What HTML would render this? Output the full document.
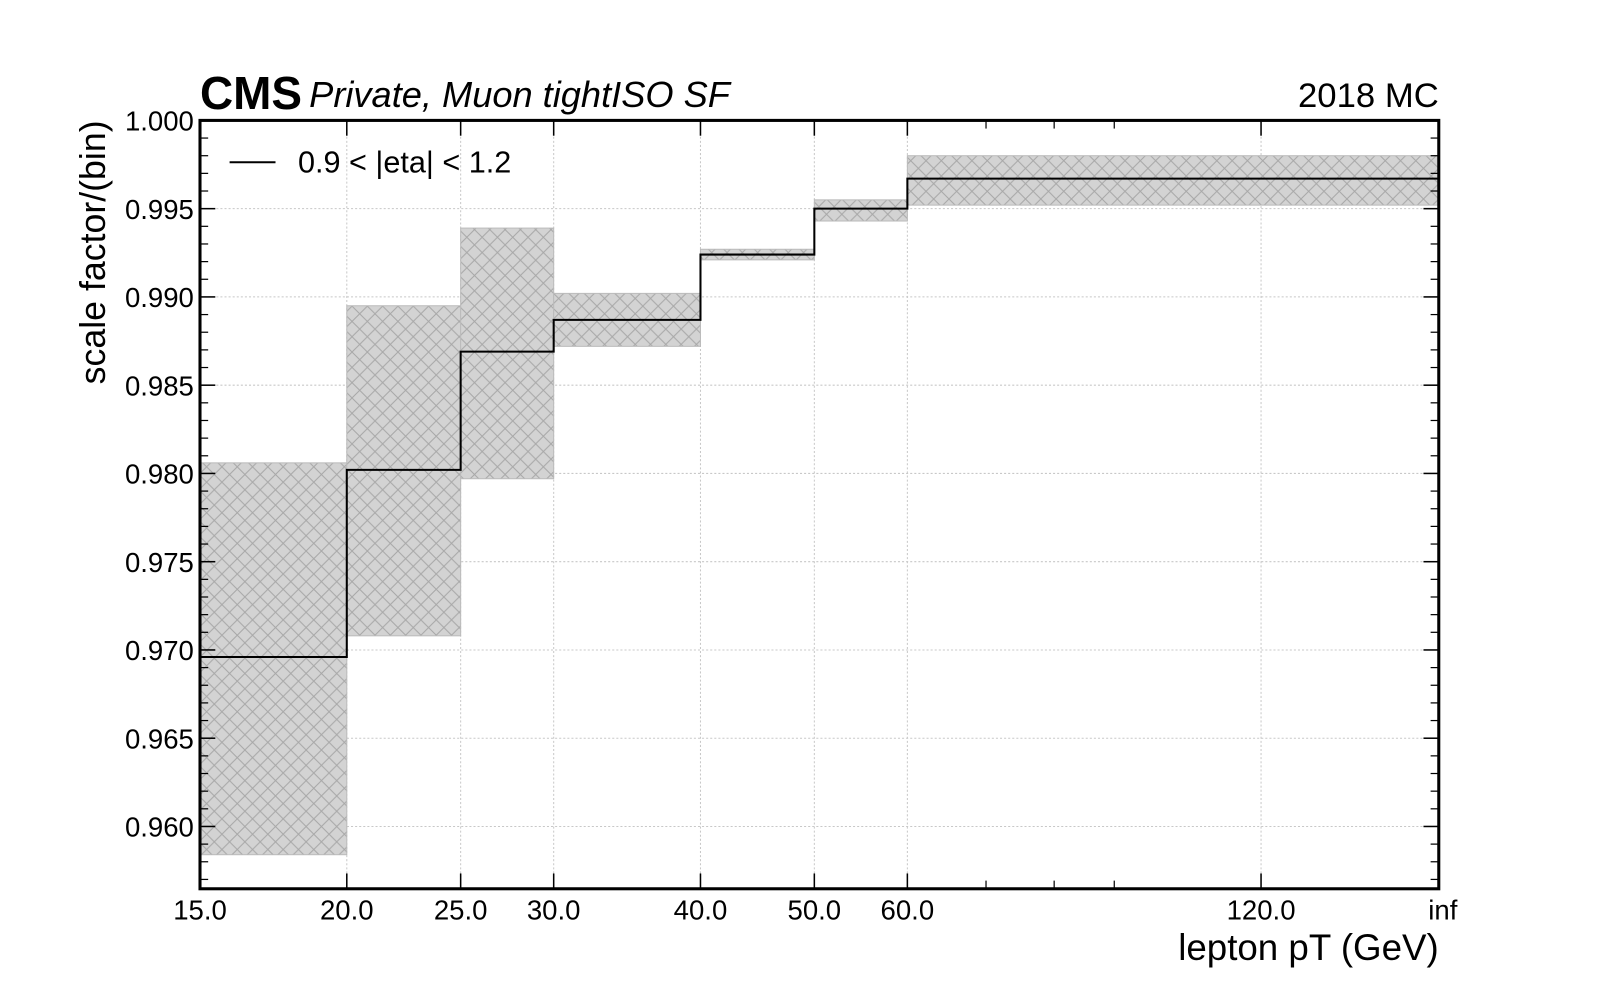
<!DOCTYPE html>
<html><head><meta charset="utf-8"><style>
body{margin:0;background:#fff;}
svg text{font-family:"Liberation Sans",sans-serif;}
</style></head><body>
<svg id="chart" width="1600" height="1000" viewBox="0 0 1568 980" xmlns="http://www.w3.org/2000/svg">
<defs>
<pattern id="hatch" width="15" height="15" patternUnits="userSpaceOnUse">
<rect width="15" height="15" fill="#d3d3d3"/>
<path d="M0,0 L15,15 M15,0 L0,15" stroke="#a8a8a8" stroke-width="1"/>
</pattern>
</defs>
<g id="grid"></g>
<g id="bands"></g>
<g id="line"></g>
<g id="axes"></g>
<text x="196" y="107" font-size="45" font-weight="bold">CMS</text>
<text x="303" y="105" font-size="35.5" font-style="italic">Private, Muon tightISO SF</text>
<text x="1410" y="105" font-size="34" text-anchor="end">2018 MC</text>
<text x="1410" y="941" font-size="36" text-anchor="end">lepton pT (GeV)</text>
<text transform="translate(103,118) rotate(-90)" font-size="35" text-anchor="end">scale factor/(bin)</text>
<g>
<line x1="225" y1="159" x2="270" y2="159" stroke="#000" stroke-width="2"/>
<text x="292" y="169" font-size="30">0.9 &lt; |eta| &lt; 1.2</text>
</g>
</svg>
<script>
const binEdges=[15,20,25,30,40,50,60,170];
const edgeLabels=["15.0","20.0","25.0","30.0","40.0","50.0","60.0","inf"];
const sfValues=[0.9696,0.9802,0.9869,0.9887,0.9924,0.9950,0.9967];
const sfUp=[0.9806,0.9895,0.9939,0.9902,0.9927,0.9955,0.9980];
const sfDown=[0.9584,0.9708,0.9797,0.9872,0.9921,0.9943,0.9952];
const extraTicks=[120];
const extraLabels=["120.0"];
const minorX=[70,80,90];
const yTicks=[0.960,0.965,0.970,0.975,0.980,0.985,0.990,0.995,1.000];
const L=196,R=1410,T=118,B=871,XMIN=15,XMAX=170,YMAX=1.0,YMIN=0.95647;
const NS="http://www.w3.org/2000/svg";
function X(v){return L+(R-L)*Math.log(v/XMIN)/Math.log(XMAX/XMIN);}
function Y(v){return T+(B-T)*(YMAX-v)/(YMAX-YMIN);}
function mk(tag,attrs,parent){const e=document.createElementNS(NS,tag);for(const k in attrs)e.setAttribute(k,attrs[k]);document.getElementById(parent).appendChild(e);return e;}
const gx=binEdges.slice(1,-1).concat(extraTicks);
gx.forEach(v=>{const e=mk('line',{x1:X(v),x2:X(v),y1:T,y2:B,stroke:'#c8c8c8','stroke-dasharray':'2,2','stroke-width':1},'grid');

});
yTicks.forEach(v=>{if(v>=1)return;const e=mk('line',{x1:L,x2:R,y1:Y(v),y2:Y(v),stroke:'#c8c8c8','stroke-dasharray':'2,2','stroke-width':1},'grid');

});
sfValues.forEach((v,i)=>{const x0=X(binEdges[i]),x1=X(binEdges[i+1]);
const r=mk('rect',{x:x0,y:Y(sfUp[i]),width:x1-x0,height:Y(sfDown[i])-Y(sfUp[i]),fill:'url(#hatch)',stroke:'#bbb','stroke-width':1},'bands');

});
let d='';sfValues.forEach((v,i)=>{d+=(i?'L':'M')+X(binEdges[i])+','+Y(v)+'L'+X(binEdges[i+1])+','+Y(v);});
const p=mk('path',{d:d,fill:'none',stroke:'#000','stroke-width':2},'line');


const f=mk('rect',{x:L,y:T,width:R-L,height:B-T,fill:'none',stroke:'#000','stroke-width':3},'axes');


const xt=binEdges.slice(0,-1).concat(extraTicks),xl=edgeLabels.slice(0,-1).concat(extraLabels);
xt.forEach((v,i)=>{const x=X(v);
mk('line',{x1:x,x2:x,y1:B,y2:B-15,stroke:'#000','stroke-width':1.5},'axes');
mk('line',{x1:x,x2:x,y1:T,y2:T+15,stroke:'#000','stroke-width':1.5},'axes');
const t=mk('text',{x:x,y:B+30,'font-size':27,'text-anchor':'middle'},'axes');t.textContent=xl[i];

});
const ti=mk('text',{x:R+4,y:B+30,'font-size':27,'text-anchor':'middle'},'axes');ti.textContent=edgeLabels[edgeLabels.length-1];


minorX.forEach(v=>{const x=X(v);mk('line',{x1:x,x2:x,y1:B,y2:B-8,stroke:'#000','stroke-width':1.2},'axes');mk('line',{x1:x,x2:x,y1:T,y2:T+8,stroke:'#000','stroke-width':1.2},'axes');});
yTicks.forEach(v=>{const y=Y(v);
mk('line',{x1:L,x2:L+15,y1:y,y2:y,stroke:'#000','stroke-width':1.5},'axes');
mk('line',{x1:R,x2:R-15,y1:y,y2:y,stroke:'#000','stroke-width':1.5},'axes');
const t=mk('text',{x:L-6,y:y+10,'font-size':27,'text-anchor':'end'},'axes');t.textContent=v.toFixed(3);

});
for(let k=957;k<1000;k++){const v=k/1000;if(k%5===0)continue;const y=Y(v);
mk('line',{x1:L,x2:L+8,y1:y,y2:y,stroke:'#000','stroke-width':1.2},'axes');
mk('line',{x1:R,x2:R-8,y1:y,y2:y,stroke:'#000','stroke-width':1.2},'axes');}
</script>
</body></html>
